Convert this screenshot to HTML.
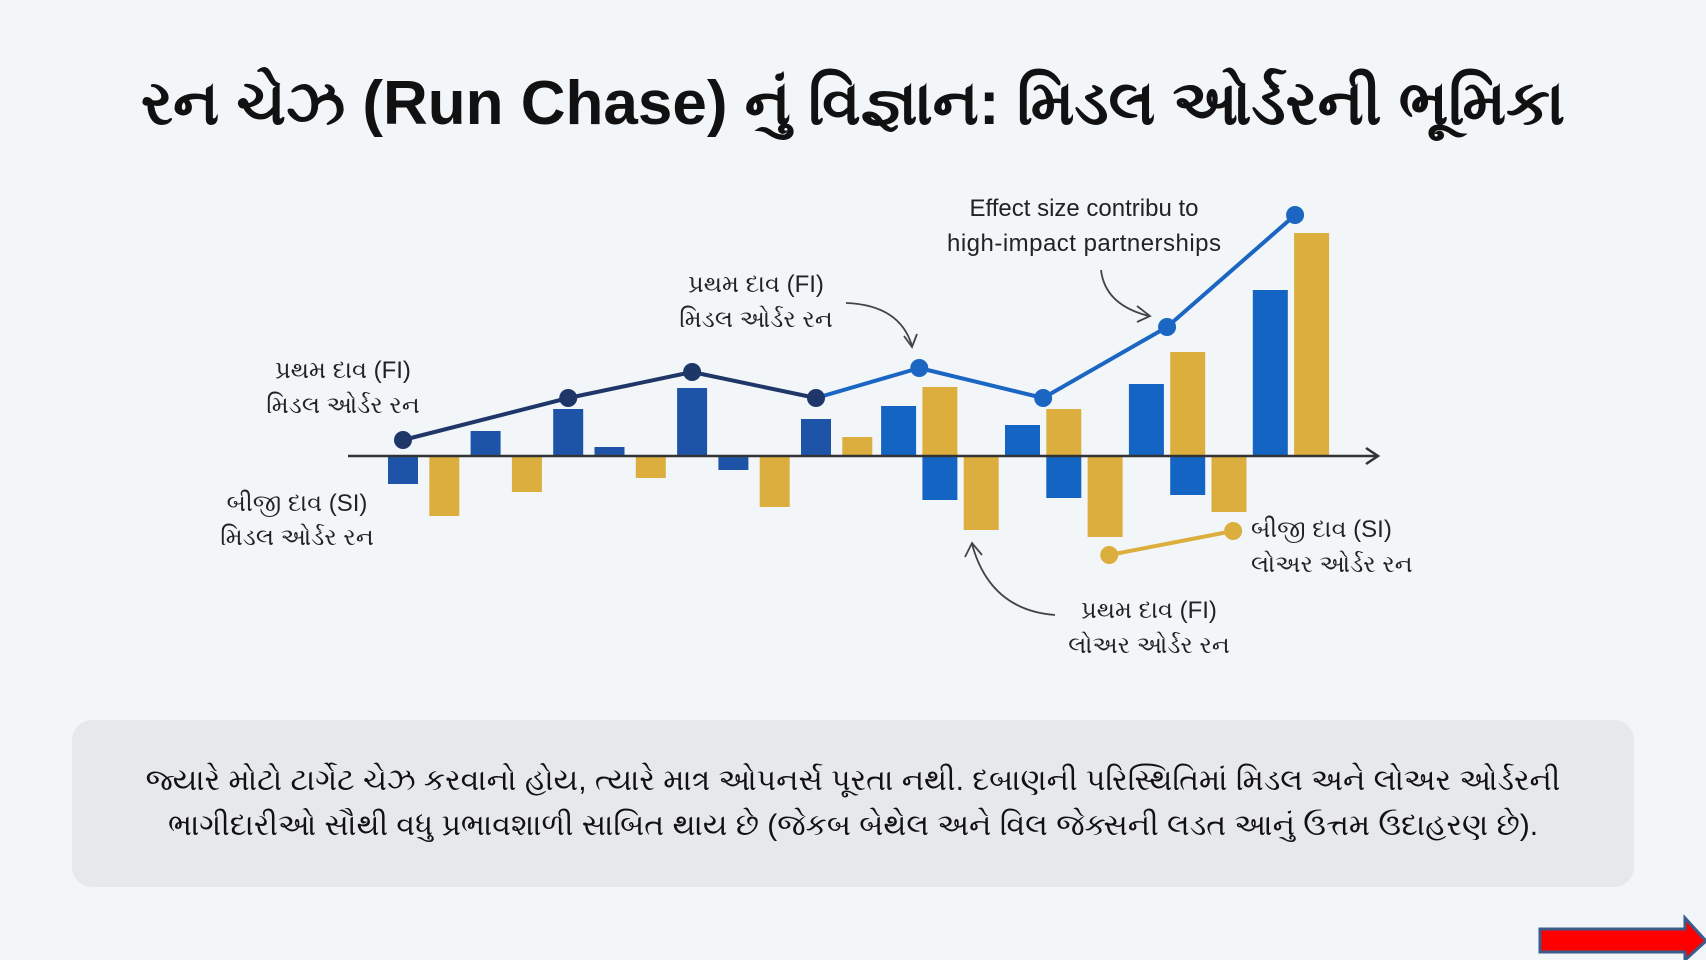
<!DOCTYPE html>
<html><head><meta charset="utf-8">
<style>
html,body{margin:0;padding:0;background:#f3f6f9;}
#root{position:relative;width:1706px;height:960px;overflow:hidden;background:#f3f6f9;font-family:"Liberation Sans","Noto Sans CJK SC",sans-serif;}
text{font-family:"Liberation Sans","Noto Sans CJK SC",sans-serif;}
</style></head>
<body>
<div id="root">
<svg id="chart" width="1706" height="960" viewBox="0 0 1706 960">
  <text x="853" y="124" text-anchor="middle" font-size="62" font-weight="bold" fill="#111">રન ચેઝ (Run Chase) નું વિજ્ઞાન: મિડલ ઓર્ડરની ભૂમિકા</text>
  <g id="bars"></g>
  <line x1="348" y1="456" x2="1376" y2="456" stroke="#333" stroke-width="2.5"/>
  <path d="M1366 448 L1378 456 L1366 464" fill="none" stroke="#333" stroke-width="2.5"/>
  <g id="lines"></g>

  <g font-size="24" fill="#222">
    <text x="343" y="378" text-anchor="middle">પ્રથમ દાવ (FI)</text>
    <text x="343" y="413" text-anchor="middle">મિડલ ઓર્ડર રન</text>
    <text x="297" y="511" text-anchor="middle">બીજી દાવ (SI)</text>
    <text x="297" y="545" text-anchor="middle">મિડલ ઓર્ડર રન</text>
    <text x="756" y="292" text-anchor="middle">પ્રથમ દાવ (FI)</text>
    <text x="756" y="327" text-anchor="middle">મિડલ ઓર્ડર રન</text>
    <text x="1084" y="216" text-anchor="middle">Effect size contribu to</text>
    <text x="1084" y="251" text-anchor="middle" textLength="274">high-impact partnerships</text>
    <text x="1251" y="537">બીજી દાવ (SI)</text>
    <text x="1251" y="572">લોઅર ઓર્ડર રન</text>
    <text x="1149" y="618" text-anchor="middle">પ્રથમ દાવ (FI)</text>
    <text x="1149" y="653" text-anchor="middle">લોઅર ઓર્ડર રન</text>
  </g>
  <g fill="none" stroke="#444" stroke-width="1.8">
    <path d="M846 303 Q900 305 912 346"/>
    <path d="M904 336 L912 347 L917 334"/>
    <path d="M1101 270 Q1105 305 1149 316"/>
    <path d="M1137 306 L1150 316 L1137 322"/>
    <path d="M1055 615 Q990 610 972 544"/>
    <path d="M965 557 L972 543 L982 555"/>
  </g>

  <rect x="72" y="720" width="1562" height="167" rx="20" fill="#e6e8ec"/>
  <text x="853" y="790" text-anchor="middle" font-size="30" fill="#111">જ્યારે મોટો ટાર્ગેટ ચેઝ કરવાનો હોય, ત્યારે માત્ર ઓપનર્સ પૂરતા નથી. દબાણની પરિસ્થિતિમાં મિડલ અને લોઅર ઓર્ડરની</text>
  <text x="853" y="835" text-anchor="middle" font-size="30" fill="#111">ભાગીદારીઓ સૌથી વધુ પ્રભાવશાળી સાબિત થાય છે (જેકબ બેથેલ અને વિલ જેક્સની લડત આનું ઉત્તમ ઉદાહરણ છે).</text>

  <g>
    <path d="M1540 929 L1685 929 L1685 918 L1706 941 L1685 960 L1685 952 L1540 952 Z" fill="#ff0000" stroke="#3c5a8a" stroke-width="3"/>
  </g>
</svg>
</div>
<script>
// Bar data (slot index, value, series)
const barSlots  = [0, 1, 2, 3, 4, 5, 6, 7, 8, 9, 10, 11, 12, 13, 13, 14, 15, 16, 16, 17, 18, 19, 19, 20, 21, 22];
const barValues = [-14, -30, 12.5, -18, 23.5, 4.5, -11, 34, -7, -25.5, 18.5, 9.5, 25, 34.5, -22, -37, 15.5, 23.5, -21, -40.5, 36, 52, -19.5, -28, 83, 111.5];
const barSeries = ['FI','SI','FI','SI','FI','FI','SI','FI','FI','SI','FI','SI','FI','SI','FI','SI','FI','SI','FI','SI','FI','SI','FI','SI','FI','SI'];
// Main line (FI middle order trend)
const lineSlots  = [0, 4, 7, 10, 12.5, 15.5, 18.5, 21.6];
const lineValues = [8, 29, 42, 29, 44, 29, 64.5, 120.5];
// Small SI lower order line
const siSlots  = [17.1, 20.1];
const siValues = [-49.5, -37.5];

const NS = 'http://www.w3.org/2000/svg';
const slot0 = 403, slotStep = 41.3, axisY = 456, unit = 2;
function xScale(s){ return slot0 + s * slotStep; }
function yScale(v){ return axisY - v * unit; }

const barsG = document.getElementById('bars');
barSlots.forEach((s, i) => {
  const v = barValues[i];
  const r = document.createElementNS(NS, 'rect');
  const w = s > 11 ? 35 : 30;
  r.setAttribute('x', xScale(s) - w / 2);
  r.setAttribute('y', Math.min(yScale(v), axisY));
  r.setAttribute('width', w);
  r.setAttribute('height', Math.abs(yScale(v) - axisY));
  const fi = barSeries[i] === 'FI';
  r.setAttribute('fill', fi ? (s < 11 ? '#1d54a8' : '#1464c4') : '#dcae3e');
  
  
  barsG.appendChild(r);
});

const linesG = document.getElementById('lines');
for (let i = 0; i < lineSlots.length - 1; i++) {
  const l = document.createElementNS(NS, 'line');
  l.setAttribute('x1', xScale(lineSlots[i])); l.setAttribute('y1', yScale(lineValues[i]));
  l.setAttribute('x2', xScale(lineSlots[i+1])); l.setAttribute('y2', yScale(lineValues[i+1]));
  l.setAttribute('stroke', i < 3 ? '#1f3768' : '#1a66c2');
  l.setAttribute('stroke-width', '4');
  
  
  linesG.appendChild(l);
}
lineSlots.forEach((s, i) => {
  const c = document.createElementNS(NS, 'circle');
  c.setAttribute('cx', xScale(s)); c.setAttribute('cy', yScale(lineValues[i]));
  c.setAttribute('r', 9);
  c.setAttribute('fill', i < 4 ? '#1f3768' : '#1a66c2');
  
  
  linesG.appendChild(c);
});
const sl = document.createElementNS(NS, 'line');
sl.setAttribute('x1', xScale(siSlots[0])); sl.setAttribute('y1', yScale(siValues[0]));
sl.setAttribute('x2', xScale(siSlots[1])); sl.setAttribute('y2', yScale(siValues[1]));
sl.setAttribute('stroke', '#dcae3e'); sl.setAttribute('stroke-width', '4');


linesG.appendChild(sl);
siSlots.forEach((s, i) => {
  const c = document.createElementNS(NS, 'circle');
  c.setAttribute('cx', xScale(s)); c.setAttribute('cy', yScale(siValues[i]));
  c.setAttribute('r', 9); c.setAttribute('fill', '#dcae3e');
  
  
  linesG.appendChild(c);
});
</script>
</body></html>
